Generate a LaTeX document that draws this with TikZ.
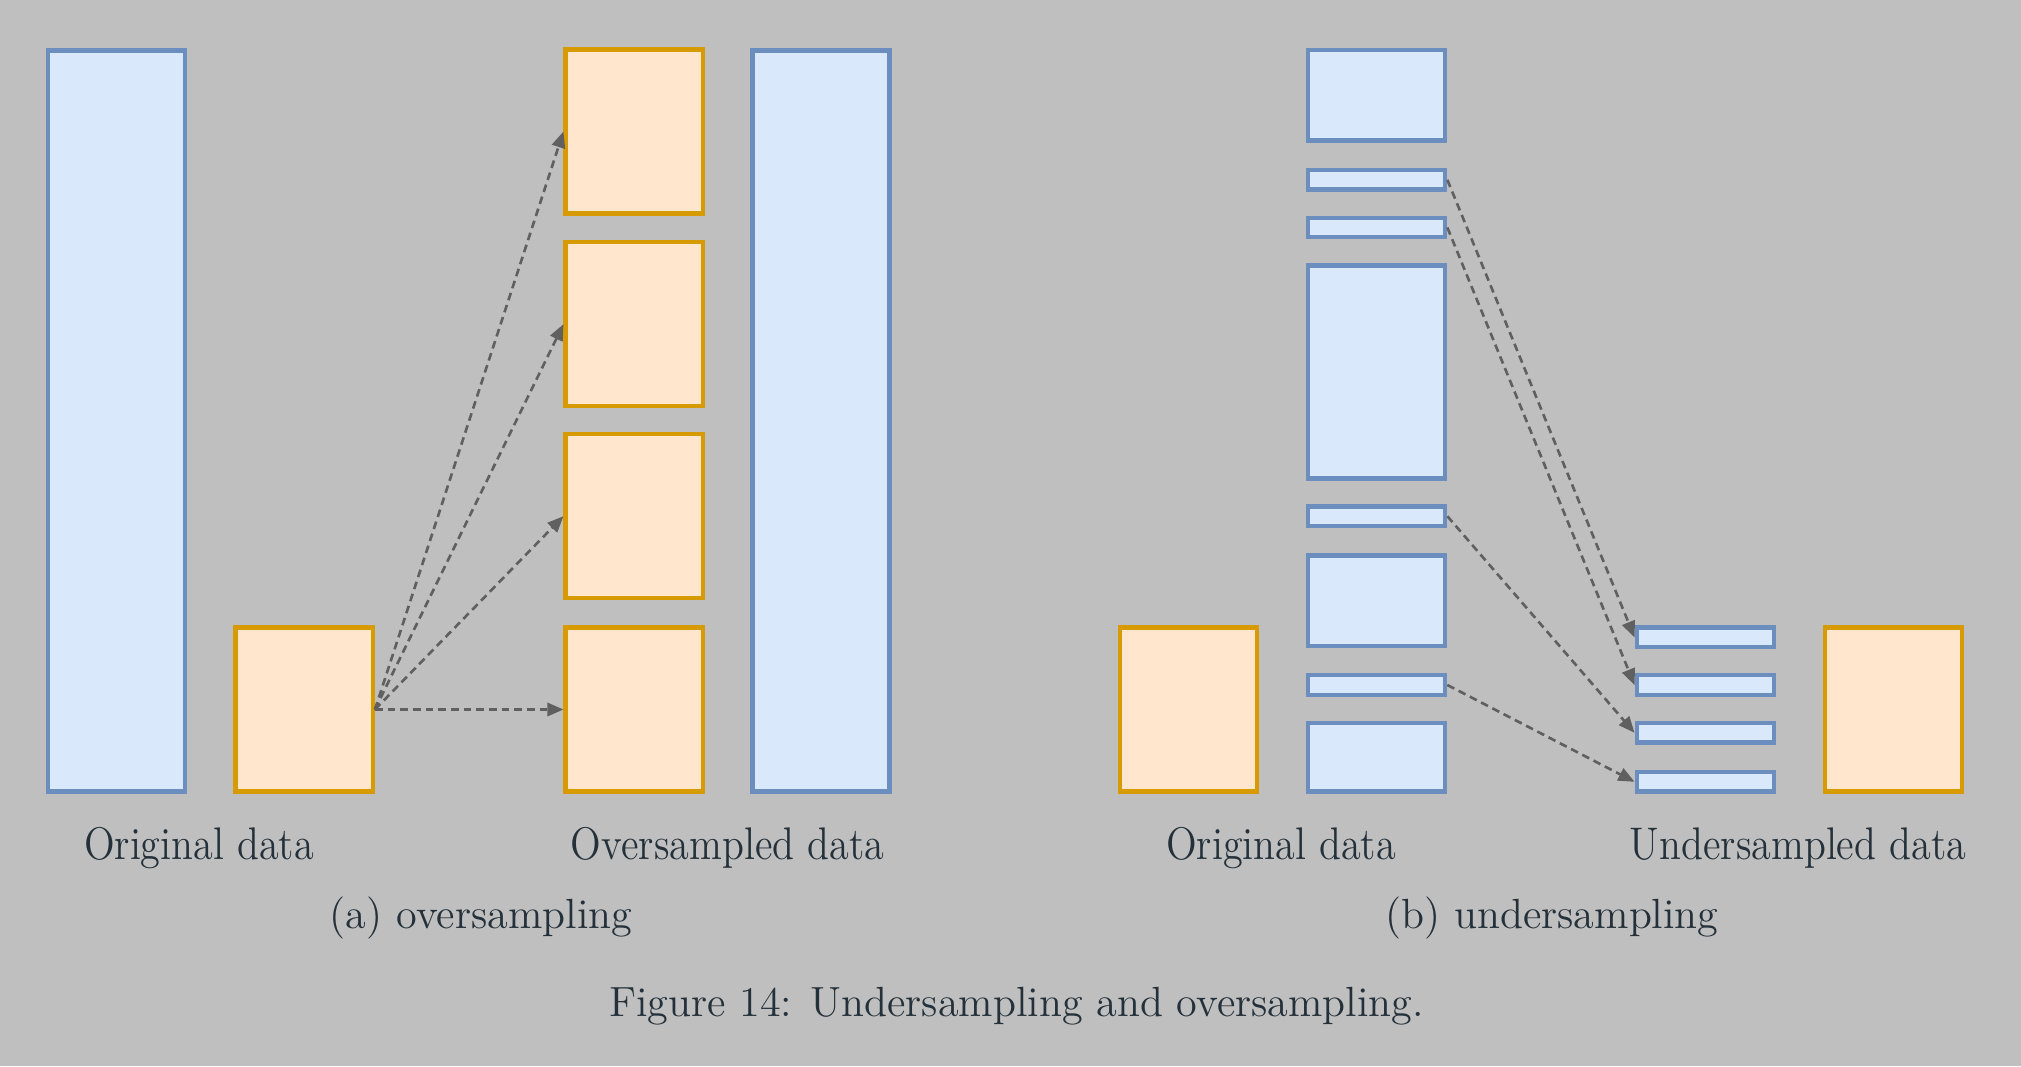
\documentclass[tikz,border=0pt]{standalone}
\usetikzlibrary{arrows.meta}
\definecolor{bgcolor}{HTML}{BFBFBF}
\definecolor{bluefill}{HTML}{DAE8FC}
\definecolor{blueline}{HTML}{6C8EBF}
\definecolor{orangefill}{HTML}{FFE6CC}
\definecolor{orangeline}{HTML}{D79B00}
\definecolor{arrowgray}{HTML}{606060}
\definecolor{textcolor}{HTML}{24313A}
\newcommand{\narrowtext}[1]{\scalebox{0.88}[1]{#1}}

\begin{document}
\begin{tikzpicture}[x=0.01cm, y=0.01cm,
    databar/.style={draw, line width=1.25pt, inner sep=0pt, minimum width=1.37cm},
    bluebar/.style={databar, draw=blueline, fill=bluefill},
    orangebar/.style={databar, draw=orangeline, fill=orangefill},
    link/.style={draw=arrowgray, line width=0.75pt, dash pattern=on 2.2pt off 1.4pt,
        -{Triangle[length=4.6pt,width=3.8pt]}},
    datalabel/.style={text=textcolor, anchor=base, font=\fontsize{13}{15}\selectfont},
    captext/.style={text=textcolor, anchor=base, font=\fontsize{12}{14}\selectfont}]
    % Background
    \fill[bgcolor] (0,0) rectangle (2021,1066);

    % (a) Original data
    \node[bluebar, minimum height=7.405cm] (origA) at (116.6,645.1) {};
    \node[orangebar, minimum height=1.64cm] (origM) at (304.2,356.5) {};
    % (a) Oversampled data
    \node[orangebar, minimum height=1.64cm] (over1) at (634.2,934.5) {};
    \node[orangebar, minimum height=1.64cm] (over2) at (634.2,741.8) {};
    \node[orangebar, minimum height=1.64cm] (over3) at (634.2,549.8) {};
    \node[orangebar, minimum height=1.64cm] (over4) at (634.2,356.5) {};
    \node[bluebar, minimum height=7.405cm] (overB) at (821,645.1) {};
    % Copies of the minority class
    \draw[link] (origM.east) -- (over1.west);
    \draw[link] (origM.east) -- (over2.west);
    \draw[link] (origM.east) -- (over3.west);
    \draw[link] (origM.east) -- (over4.west);

    % (b) Original data
    \node[orangebar, minimum height=1.64cm] (origO) at (1188.4,356.5) {};
    \node[bluebar, minimum height=0.905cm] (seg1) at (1376.6,970.6) {};
    \node[bluebar, minimum height=0.195cm] (seg2) at (1376.6,886.2) {};
    \node[bluebar, minimum height=0.195cm] (seg3) at (1376.6,838.5) {};
    \node[bluebar, minimum height=2.13cm] (seg4) at (1376.6,694.1) {};
    \node[bluebar, minimum height=0.195cm] (seg5) at (1376.6,549.8) {};
    \node[bluebar, minimum height=0.905cm] (seg6) at (1376.6,465.3) {};
    \node[bluebar, minimum height=0.195cm] (seg7) at (1376.6,381) {};
    \node[bluebar, minimum height=0.686cm] (seg8) at (1376.6,308.7) {};
    % (b) Undersampled data
    \node[bluebar, minimum height=0.195cm] (under1) at (1705.3,428.6) {};
    \node[bluebar, minimum height=0.195cm] (under2) at (1705.3,381) {};
    \node[bluebar, minimum height=0.195cm] (under3) at (1705.3,333.2) {};
    \node[bluebar, minimum height=0.195cm] (under4) at (1705.3,284.2) {};
    \node[orangebar, minimum height=1.64cm] (underO) at (1893.4,356.5) {};
    % Samples kept from the majority class
    \draw[link] (seg2.east) -- (under1.west);
    \draw[link] (seg3.east) -- (under2.west);
    \draw[link] (seg5.east) -- (under3.west);
    \draw[link] (seg7.east) -- (under4.west);

    % Labels
    \node[datalabel] (labA1) at (199,207) {\narrowtext{Original data}};
    \node[datalabel] (labA2) at (727.6,207) {\narrowtext{Oversampled data}};
    \node[datalabel] (labB1) at (1281,207) {\narrowtext{Original data}};
    \node[datalabel] (labB2) at (1798,207) {\narrowtext{Undersampled data}};
    \node[captext] (subA) at (481,138) {(a) oversampling};
    \node[captext] (subB) at (1552,138) {(b) undersampling};
    \node[captext] (figcap) at (1016.5,50) {Figure 14: Undersampling and oversampling.};
\end{tikzpicture}
\end{document}
